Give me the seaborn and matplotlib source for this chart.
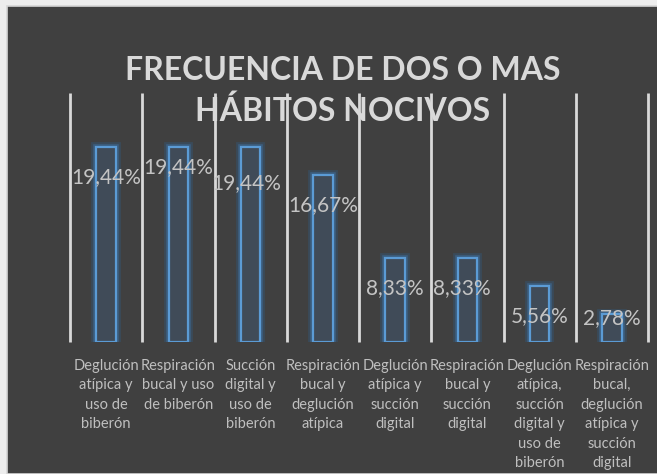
import matplotlib
matplotlib.use("Agg")
import matplotlib.pyplot as plt
import matplotlib.patheffects as pe
from matplotlib.patches import Rectangle
import pandas as pd
import seaborn as sns

# data
categories = [
    "Deglución\natípica y\nuso de\nbiberón",
    "Respiración\nbucal y uso\nde biberón",
    "Succión\ndigital y\nuso de\nbiberón",
    "Respiración\nbucal y\ndeglución\natípica",
    "Deglución\natípica y\nsucción\ndigital",
    "Respiración\nbucal y\nsucción\ndigital",
    "Deglución\natípica,\nsucción\ndigital y\nuso de\nbiberón",
    "Respiración\nbucal,\ndeglución\natípica y\nsucción\ndigital",
]
values = [19.44, 19.44, 19.44, 16.67, 8.33, 8.33, 5.56, 2.78]
title = "FRECUENCIA DE DOS O MAS\nHÁBITOS NOCIVOS"

# manual label nudges (like Excel's dragged labels)
label_dx = [0, 0, -0.06, 0, 0, -0.08, 0, 0]
label_dy = [-3.0, -2.0, -3.6, -3.0, -3.0, -3.0, -3.0, -0.4]

df = pd.DataFrame({"habito": categories, "pct": values})

sns.set_style("white")
plt.rcParams["font.family"] = ["Lato", "DejaVu Sans"]

bg = "#404040"
fig = plt.figure(figsize=(6.57, 4.74), dpi=100, facecolor="#ededed")
fig.patches.append(Rectangle((7 / 657, 0), 1, 1 - 6 / 474, transform=fig.transFigure,
                             facecolor=bg, edgecolor="#d6d6d6", linewidth=1.2, zorder=-5))

ax = fig.add_axes([70 / 657, 1 - 342 / 474, (648 - 70) / 657, (342 - 93) / 474])
ax.patch.set_visible(False)

sns.barplot(data=df, x="habito", y="pct", ax=ax, width=0.27,
            color="#404b58", edgecolor="#5B9BD5", linewidth=1.6, saturation=1)
for bar in ax.patches:
    bar.set_path_effects([pe.Stroke(linewidth=7, foreground="#2f5f8c", alpha=0.35),
                          pe.Stroke(linewidth=4, foreground="#3f78ad", alpha=0.45),
                          pe.Normal()])
    bar.set_zorder(3)

n = len(categories)
ax.set_xlim(-0.5, n - 0.5)
ax.set_ylim(0, 24.8)

# vertical separators between categories
ax.vlines([i - 0.5 for i in range(n + 1)], 0, 24.8, color="#d9d9d9",
          linewidth=2, zorder=2, clip_on=False)

for i, v in enumerate(values):
    ax.text(i + label_dx[i], v + label_dy[i], f"{v:.2f}".replace(".", ",") + "%",
            ha="center", va="center", fontsize=15, color="#c4c4c4", zorder=5)

for s in ax.spines.values():
    s.set_visible(False)
ax.set_yticks([])
ax.set_xlabel("")
ax.set_ylabel("")
ax.tick_params(axis="x", length=0, pad=12, labelsize=10.5, colors="#bfbfbf")
for lbl in ax.get_xticklabels():
    lbl.set_linespacing(1.5)
    lbl.set_multialignment("center")

fig.text(343 / 657, 1 - 91 / 474, title, ha="center", va="center", fontsize=23,
         fontweight="bold", color="#d9d9d9", linespacing=1.38, zorder=-1)

fig.savefig("out.png", dpi=100, facecolor=fig.get_facecolor())
